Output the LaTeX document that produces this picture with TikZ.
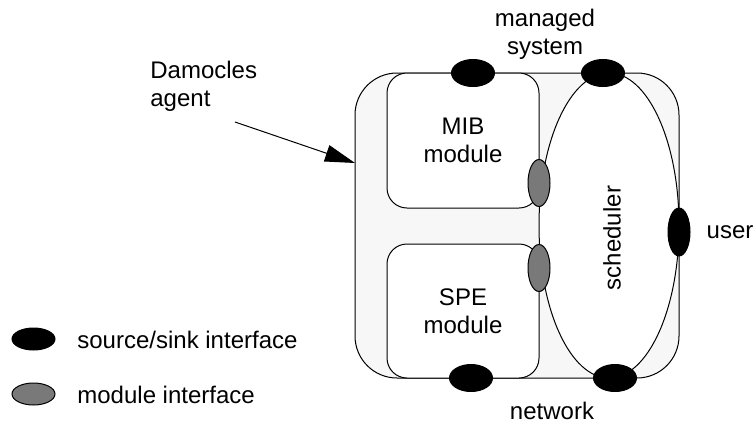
\documentclass[tikz,border=0pt]{standalone}
\usepackage{fontspec}
\setmainfont{Liberation Sans}
\usetikzlibrary{shapes.geometric, arrows.meta}

\begin{document}
\begin{tikzpicture}[x=0.5pt, y=-0.5pt,
		font=\fontsize{12}{14}\selectfont]
			\tikzset{box/.style={draw=black, line width=0.5pt, rounded corners=10pt, fill=white, inner sep=0pt, align=center},
			src/.style={ellipse, fill=black, draw=black, line width=0.5pt, inner sep=0pt},
			mif/.style={ellipse, fill=gray!95!black, draw=black, line width=0.5pt, inner sep=0pt},
			lbl/.style={align=center, inner sep=0pt},
			f/.style={-{Triangle[length=15pt, width=8.5pt]}, line width=0.5pt}};
			\useasboundingbox (0,0) rectangle (754,424);

			% agent body and its parts
			\node[draw=black, line width=0.5pt, rounded corners=21pt, fill=black!3,
				minimum width=162pt, minimum height=152.5pt] (agent) at (517,225.5) {};
			\node[box, minimum width=76pt, minimum height=67.5pt] (mib) at (463,140.5) {MIB\\module};
			\node[box, minimum width=76pt, minimum height=67pt] (spe) at (463,311) {SPE\\module};
			\node[ellipse, draw=black, line width=0.5pt, fill=white, inner sep=0pt,
				minimum width=70pt, minimum height=152.5pt] (sched) at (609,225.5) {};
			\node[rotate=90, inner sep=0pt] (schedtext) at (612,238) {scheduler};

			% interfaces
			\node[src, minimum width=21.5pt, minimum height=13.5pt] (mstop) at (473,73) {};
			\node[src, minimum width=21.5pt, minimum height=13.5pt] (sctop) at (603,73) {};
			\node[src, minimum width=21.5pt, minimum height=13.5pt] (nwbot) at (471,378) {};
			\node[src, minimum width=21.5pt, minimum height=13.5pt] (scbot) at (615,378) {};
			\node[src, minimum width=11pt, minimum height=24pt] (usr) at (679,232) {};
			\node[mif, minimum width=11pt, minimum height=23.5pt] (mibif) at (539,183) {};
			\node[mif, minimum width=11pt, minimum height=23.5pt] (speif) at (539,268) {};

			% outside labels
			\node[lbl] (managed) at (545,34) {managed\\system};
			\node[lbl] (user) at (730,232) {user};
			\node[lbl] (network) at (552,411) {network};
			\node[lbl, align=left, anchor=west] (damocles) at (150,86) {Damocles\\agent};

			\coordinate (tail) at (235,122);
			\coordinate (hit) at (355,163);
			\draw[f] (tail) -- (hit);

			% legend
			\node[src, minimum width=21.5pt, minimum height=11pt] (keysrc) at (33.5,339) {};
			\node[mif, minimum width=21.5pt, minimum height=11pt] (keymif) at (33.5,394) {};
			\node[lbl, anchor=west] (keysrctext) at (77,340) {source/sink interface};
			\node[lbl, anchor=west] (keymiftext) at (77,395) {module interface};
	\end{tikzpicture}
\end{document}
